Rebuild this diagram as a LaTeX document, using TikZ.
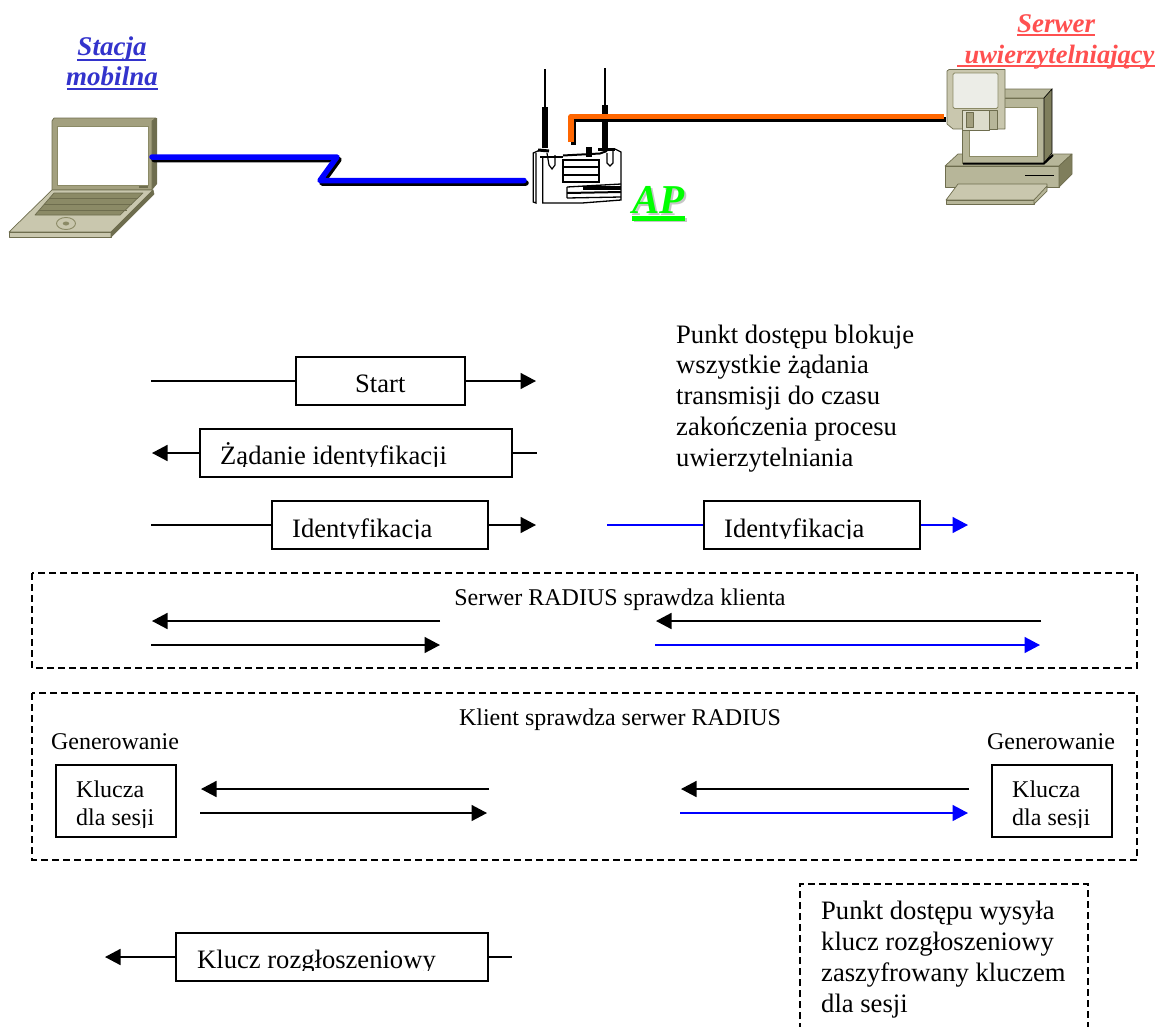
\documentclass[tikz,border=0pt]{standalone}
\usepackage{fontspec}
\setmainfont{Liberation Serif}
\usetikzlibrary{arrows.meta}
\definecolor{lapA}{HTML}{A3A07F}
\definecolor{lapB}{HTML}{C9C7AE}
\definecolor{lapC}{HTML}{8B8A66}
\definecolor{lapD}{HTML}{6E6D4E}
\definecolor{srvB}{HTML}{B7B699}
\definecolor{srvD}{HTML}{7F7E5C}
\definecolor{srvL}{HTML}{DCDCCB}
\definecolor{disk}{HTML}{ECEDE7}
\definecolor{redT}{HTML}{FF5050}
\definecolor{bluT}{HTML}{3333CC}
\definecolor{grnT}{HTML}{00FF00}
\definecolor{orng}{HTML}{FF6600}
\tikzset{
  x=1pt,y=-1pt,
  msgbox/.style={draw=black,line width=1.8pt,fill=white,minimum height=48pt,inner sep=0pt},
  keybox/.style={draw=black,line width=1.8pt,fill=white,minimum height=72pt,minimum width=120pt,inner sep=0pt},
  keytext/.style={font=\fontsize{24}{28}\selectfont,align=left,inner sep=0pt,anchor=base west},
  frameb/.style={draw=black,line width=1.3pt,dash pattern=on 7pt off 4pt},
  msgtext/.style={font=\fontsize{26.6}{30}\selectfont,inner sep=0pt,anchor=base west},
  note/.style={font=\fontsize{26.6}{30.75}\selectfont,align=left,inner sep=0pt,anchor=base west},
  captext/.style={font=\fontsize{24}{28}\selectfont,inner sep=0pt,anchor=base},
  ln/.style={line width=1.6pt},
  arr/.style={line width=1.6pt,-{Triangle[length=15.5pt,width=16pt]}},
  blu/.style={draw=blue},
  titletext/.style={font=\fontsize{27}{31}\selectfont\bfseries\itshape,inner sep=0pt,anchor=base},
  aptext/.style={font=\fontsize{41}{41}\selectfont\bfseries\itshape,inner sep=0pt,anchor=base},
  eq/.style={draw=lapD,line width=.7pt,line join=round},
  ink/.style={draw=black,line width=1.3pt},
}
\begin{document}
\begin{tikzpicture}
\useasboundingbox (0,0) rectangle (1165,1026);
\clip (0,0) rectangle (1165,1026);
% titles
\node[titletext,text=bluT] (tS) at (112,55) {Stacja}; \fill[bluT] (77,59) rectangle (146,61);
\node[titletext,text=bluT] (tM) at (112,85) {mobilna}; \fill[bluT] (67,88) rectangle (158,90);
\node[titletext,text=redT] (tA) at (1056,32) {Serwer}; \fill[redT] (1017,34) rectangle (1095,36);
\node[titletext,text=redT,font=\fontsize{26.5}{31}\selectfont\bfseries\itshape] (tB) at (1059.5,63) {uwierzytelniający}; \fill[redT] (957,65) rectangle (1155,67);
% laptop
\fill[lapD] (152,118) -- (157,118) -- (157,184) -- (152,190) -- cycle;
\filldraw[eq,fill=lapA] (52,121) -- (54,118) -- (156,118) -- (152,121) -- (152,190) -- (52,190) -- cycle;
\filldraw[draw=lapC,line width=1pt,fill=white] (57,126) rectangle (148,185);
\fill[lapD] (139,185.5) rectangle (148,188);
\filldraw[eq,fill=lapB] (52,190) -- (153,190) -- (111,232) -- (9,232) -- cycle;
\filldraw[eq,fill=lapC] (54,193) -- (143,193) -- (120,215) -- (35,215) -- cycle;
\draw[lapD,line width=.7pt] (49,198) -- (138,198) (44,204) -- (132,204) (39,210) -- (127,210);
\filldraw[eq,fill=lapB] (9,232) -- (111,232) -- (111,237) -- (9,237) -- cycle;
\filldraw[eq,fill=lapD] (111,237) -- (154,194) -- (153,190) -- (111,232) -- cycle;
\draw[lapC,line width=.9pt] (66,223.5) ellipse (9.5 and 6);
\fill[lapC] (66,223.5) ellipse (3.2 and 2);
% link mobile - AP
\coordinate (lA) at (152,157); \coordinate (lB) at (337,157); \coordinate (lC) at (320,180.5); \coordinate (lD) at (524,180.5);
\draw[black,line width=5.5pt,line join=round,line cap=round] ([shift={(2,2.5)}]lA) -- ([shift={(2,2.5)}]lB) -- ([shift={(2,2.5)}]lC) -- ([shift={(2,2.5)}]lD);
\draw[blue,line width=5.5pt,line join=round,line cap=round] (lA) -- (lB) -- (lC) -- (lD);
% AP
\draw[black,line width=2.7pt] (545,69) -- (545,108);
\draw[black,line width=5.5pt] (545,107) -- (545,148);
\draw[black,line width=2.7pt] (605,68) -- (605,106);
\draw[black,line width=5.5pt] (605,105) -- (605,148);
\draw[black,line width=3pt] (538,150) -- (549,151);
\draw[black,line width=3pt] (598,149) -- (615,149);
\draw[ink] (540,150) -- (533.3,153) -- (533.3,202) -- (536,203) -- (536,153);
\draw[ink] (542.7,157) -- (542.7,203) -- (582,203) -- (621,200) -- (621,152) -- (615,149);
\draw[ink] (540,157) -- (563,157);
\draw[black,line width=2pt] (563,155.5) -- (600,153.5) -- (607,151);
\draw[black,line width=1.2pt] (547,153) -- (549,165) -- (552,169) -- (555,165) -- (555,155);
\draw[black,line width=1.2pt] (607,153) -- (607,163) -- (610,166) -- (613,163) -- (613,150);
\draw[ink] (563,160) rectangle (599,182);
\draw[ink] (563,167) -- (599,167) (563,175) -- (599,175);
\fill[black] (586,147) rectangle (592,157);
\draw[ink] (567,187) -- (621,184);
\fill[black] (583,185.5) rectangle (621,190);
\draw[black,line width=2pt] (567,193) -- (621,192);
\draw[ink] (567,198) -- (621,197) (567,187) -- (567,198);
% link AP - server
\coordinate (oA) at (571,142); \coordinate (oB) at (571,116.5); \coordinate (oC) at (944,116.5);
\draw[black,line width=5pt,line join=round] ([shift={(2,2.5)}]oA) -- ([shift={(2,2.5)}]oB) -- ([shift={(2,2.5)}]oC);
\draw[orng,line width=5.5pt,line join=round] (oA) -- (oB) -- (oC);
% AP title
\node[aptext,text=gray!45] (apS) at (660.5,215) {AP};
\fill[gray!45] (634,218) rectangle (687,222);
\node[aptext,text=grnT] (ap) at (658.5,213) {AP};
\fill[grnT] (632,216) rectangle (685,221);
% server
\filldraw[eq,fill=srvB] (945,166) -- (958,154) -- (1072,154) -- (1059,166) -- cycle;
\filldraw[eq,fill=srvB] (945,166) rectangle (1059,187);
\filldraw[eq,fill=srvD] (1059,166) -- (1072,154) -- (1072,174) -- (1059,187) -- cycle;
\draw[black,line width=1.5pt] (1025,175.5) -- (1054,175.5);
\filldraw[eq,fill=lapB] (958,184) -- (1047,184) -- (1047,188) -- (1034,200) -- (946,200) -- cycle;
\filldraw[eq,fill=srvB] (946,200) -- (1034,200) -- (1034,204) -- (946,204) -- cycle;
\filldraw[eq,fill=srvB] (1034,204) -- (1047,191) -- (1047,186) -- (1034,200) -- cycle;
\filldraw[eq,fill=srvB] (962,98) -- (1044,98) -- (1044,163) -- (962,163) -- cycle;
\filldraw[eq,fill=srvB] (1044,98) -- (1052,89) -- (1000,89) -- (962,98) -- cycle;
\filldraw[draw=black,fill=srvD,line width=.6pt] (1044,98) -- (1052,89) -- (1052,153) -- (1044,163) -- cycle;
\draw[black,line width=2pt] (963,163.5) -- (1044,163.5) -- (1053,155);
\filldraw[draw=lapC,line width=1pt,fill=white] (969,107) rectangle (1037,156);
\filldraw[eq,fill=lapB] (949,69.5) -- (1005,69.5) -- (1005,129) -- (953,129) -- (947,124) -- (947,71) -- cycle;
\filldraw[draw=lapC,line width=.8pt,fill=disk,rounded corners=1.5pt] (953,73) rectangle (998,108.5);
\filldraw[eq,fill=srvL] (962,110) rectangle (989,130);
\filldraw[eq,fill=srvB] (989,110) rectangle (997,129);
\filldraw[eq,fill=lapA] (966,112) rectangle (973,127);
% note
\node[note] (n1) at (676,466) {Punkt dostępu blokuje\\wszystkie żądania\\transmisji do czasu\\zakończenia procesu\\uwierzytelniania};
% message 1
\node[msgbox,minimum width=169pt] (start) at (380.5,381) {};
\node[msgtext] (startT) at (355,392) {Start};
\coordinate (s1) at (151,381); \coordinate (s2) at (536,381);
\draw[ln] (s1) -- (start.west);
\draw[arr] (start.east) -- (s2);
% message 2
\node[msgbox,minimum width=312pt] (zad) at (356,453) {};
\begin{scope}
\clip (200,425) rectangle (512,466);
\node[msgtext] (zadT) at (220,464) {Żądanie identyfikacji};
\end{scope}
\coordinate (z1) at (152,453); \coordinate (z2) at (537,453);
\draw[arr] (zad.west) -- (z1);
\draw[ln] (zad.east) -- (z2);
% message 3
\node[msgbox,minimum width=216pt] (id1) at (380,525) {};
\begin{scope}
\clip (272,501) rectangle (488,538.5);
\node[msgtext] (id1T) at (292,537) {Identyfikacja};
\end{scope}
\coordinate (i1) at (151,525); \coordinate (i2) at (536,525);
\draw[ln] (i1) -- (id1.west);
\draw[arr] (id1.east) -- (i2);
% message 3 blue
\node[msgbox,minimum width=216pt] (id2) at (812,525) {};
\begin{scope}
\clip (704,501) rectangle (920,538.5);
\node[msgtext] (id2T) at (724,537) {Identyfikacja};
\end{scope}
\coordinate (b1) at (607,525); \coordinate (b2) at (968,525);
\draw[ln,blu] (b1) -- (id2.west);
\draw[arr,blu] (id2.east) -- (b2);
% frame 1
\draw[frameb] (32,573) rectangle (1137,668);
\node[captext] (c1) at (620,605) {Serwer RADIUS sprawdza klienta};
\coordinate (a1) at (440,621); \coordinate (a2) at (152,621);
\coordinate (a3) at (1041,621); \coordinate (a4) at (656,621);
\coordinate (a5) at (151,645); \coordinate (a6) at (440,645);
\coordinate (a7) at (655,645); \coordinate (a8) at (1040,645);
\draw[arr] (a1) -- (a2); \draw[arr] (a3) -- (a4); \draw[arr] (a5) -- (a6); \draw[arr,blu] (a7) -- (a8);
% frame 2
\draw[frameb] (32,693) rectangle (1137,860);
\node[captext] (c2) at (620,725) {Klient sprawdza serwer RADIUS};
\node[captext] (g1) at (115,749) {Generowanie};
\node[captext] (g2) at (1051,749) {Generowanie};
\node[keybox] (k1) at (116,801) {};
\node[keybox] (k2) at (1052,801) {};
\begin{scope}
\clip (56,765) rectangle (176,827);
\node[keytext] (k1T) at (76,825) {Klucza\\dla sesji};
\end{scope}
\begin{scope}
\clip (992,765) rectangle (1112,827);
\node[keytext] (k2T) at (1012,825) {Klucza\\dla sesji};
\end{scope}
\coordinate (d1) at (489,789); \coordinate (d2) at (201,789);
\coordinate (d3) at (969,789); \coordinate (d4) at (681,789);
\coordinate (d5) at (200,813); \coordinate (d6) at (487,813);
\coordinate (d7) at (680,813); \coordinate (d8) at (968,813);
\draw[arr] (d1) -- (d2); \draw[arr] (d3) -- (d4); \draw[arr] (d5) -- (d6); \draw[arr,blu] (d7) -- (d8);
% broadcast key
\node[msgbox,minimum width=312pt] (kr) at (332,957) {};
\begin{scope}
\clip (176,933) rectangle (488,970);
\node[msgtext] (krT) at (197,968) {Klucz rozgłoszeniowy};
\end{scope}
\coordinate (r1) at (105,957); \coordinate (r2) at (512,957);
\draw[arr] (kr.west) -- (r1);
\draw[ln] (kr.east) -- (r2);
% note 2
\draw[frameb] (800,1030) -- (800,884) -- (1088,884) -- (1088,1030);
\node[note] (n2) at (821,1012) {Punkt dostępu wysyła\\klucz rozgłoszeniowy\\zaszyfrowany kluczem\\dla sesji};
\end{tikzpicture}
\end{document}
